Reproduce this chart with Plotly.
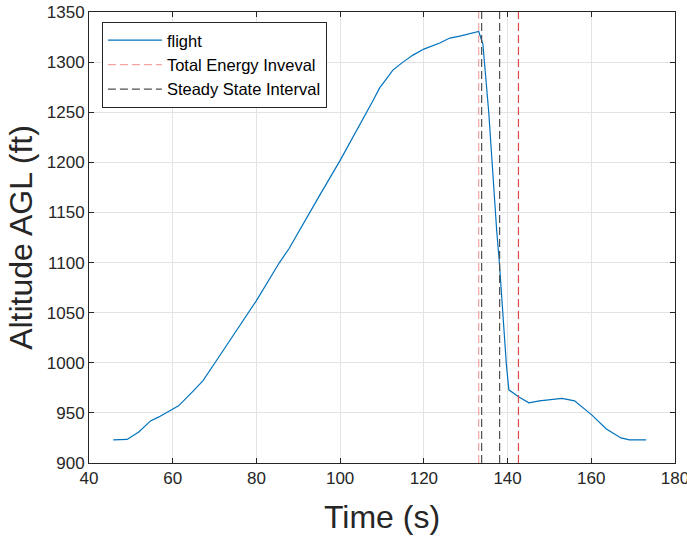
import plotly.graph_objects as go

time_s = [45.8, 49.1, 51.9, 54.7, 56.7, 59.2, 61.4, 64.7, 67.2, 70.1, 78.2, 80.0, 85.5, 87.8,
          95.1, 100.0, 107.9, 109.4, 112.6, 115.0, 117.4, 120.0, 123.8, 126.2, 128.6, 133.1,
          134.1, 135.5, 137.4, 138.0, 139.7, 140.3, 142.6, 145.1, 147.6, 151.0, 153.0, 156.0,
          160.1, 163.6, 167.1, 169.1, 173.1]
altitude_ft = [923, 923.5, 931, 942, 946, 952, 957, 971, 982, 1000, 1050, 1062, 1100, 1114,
               1167, 1202, 1262, 1274, 1292, 1300, 1307, 1313, 1319, 1324, 1326, 1330.5,
               1318, 1250, 1132, 1102, 999, 973, 966, 960, 962, 964, 964.5, 962,
               948, 934, 925, 923, 923]

total_energy_interval = [133.1, 142.6]
steady_state_interval = [133.8, 138.1]

x_ticks = [40, 60, 80, 100, 120, 140, 160, 180]
y_ticks = [900, 950, 1000, 1050, 1100, 1150, 1200, 1250, 1300, 1350]
y_range = [900, 1350]

FONT = "Liberation Sans, Arial"

fig = go.Figure()
fig.add_trace(go.Scatter(x=time_s, y=altitude_ft, mode="lines", name="flight",
                         line=dict(color="#0072BD", width=1.2)))
red_cols = ["#f4a3a3", "#e0464a"]
for i, v in enumerate(total_energy_interval):
    fig.add_trace(go.Scatter(x=[v, v], y=y_range, mode="lines", name="Total Energy Inveval",
                             showlegend=(i == 0), legendgroup="te",
                             line=dict(color=red_cols[i], width=1.2, dash="8px,4px")))
for i, v in enumerate(steady_state_interval):
    fig.add_trace(go.Scatter(x=[v, v], y=y_range, mode="lines", name="Steady State Interval",
                             showlegend=(i == 0), legendgroup="ss",
                             line=dict(color="#505050", width=1.2, dash="8px,4px")))

axis_common = dict(showline=True, linecolor="#262626", linewidth=1, mirror="ticks",
                   ticks="inside", ticklen=5, tickcolor="#262626",
                   showgrid=True, gridcolor="#e3e3e3", gridwidth=1, zeroline=False,
                   automargin=False, ticklabeloverflow="allow",
                   tickfont=dict(family=FONT, size=17, color="#262626"))

fig.update_layout(
    width=687, height=538,
    margin=dict(l=89, r=12, t=12, b=75),
    paper_bgcolor="white", plot_bgcolor="white",
    xaxis=dict(range=[40, 180], tickvals=x_ticks,
               title=dict(text="Time (s)", font=dict(family=FONT, size=32, color="#262626"), standoff=18),
               **axis_common),
    yaxis=dict(range=y_range, tickvals=y_ticks,
               title=dict(text="Altitude AGL (ft)", font=dict(family=FONT, size=32, color="#262626"), standoff=4),
               **axis_common),
    legend=dict(x=0.022, y=0.978, xanchor="left", yanchor="top",
                bgcolor="white", bordercolor="#262626", borderwidth=1,
                font=dict(family=FONT, size=16.5, color="#000000"),
                itemwidth=54, tracegroupgap=0),
    showlegend=True,
)

fig.write_html("out.html")
